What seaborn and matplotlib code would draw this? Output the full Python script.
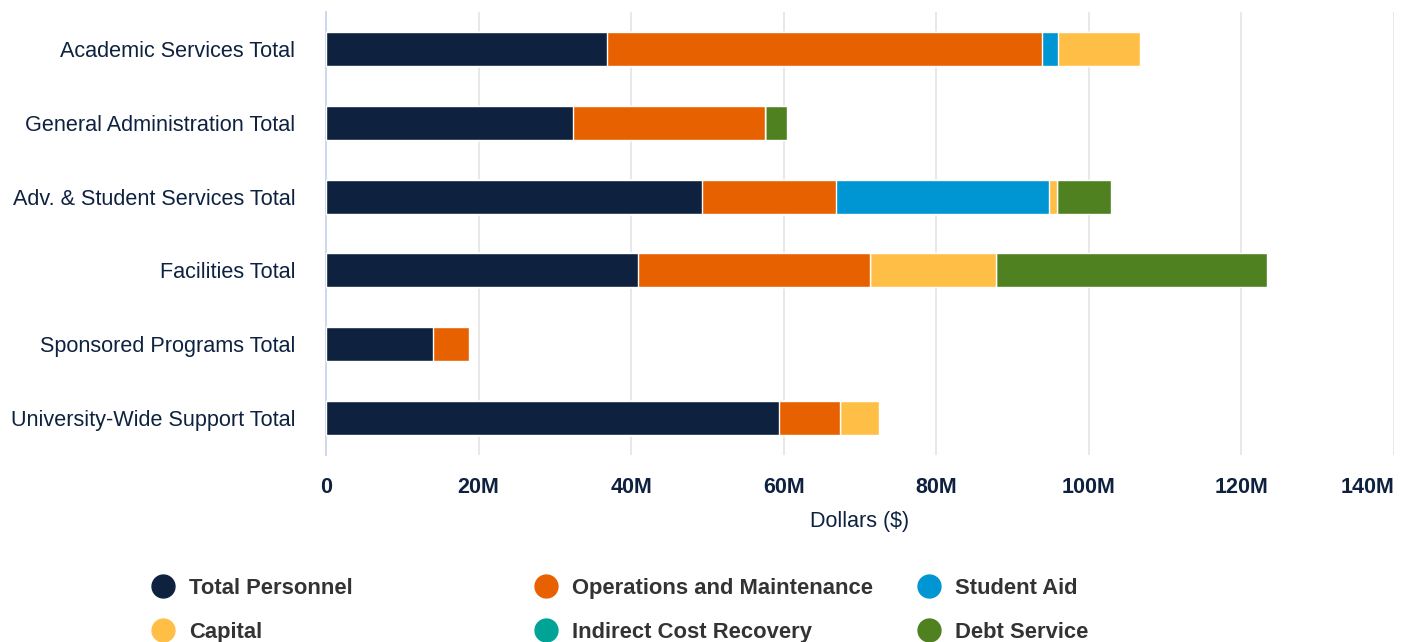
import matplotlib
matplotlib.use("Agg")
import matplotlib.pyplot as plt
import seaborn as sns
import pandas as pd
import numpy as np
from matplotlib.lines import Line2D

categories = ["Academic Services Total", "General Administration Total",
              "Adv. & Student Services Total", "Facilities Total",
              "Sponsored Programs Total", "University-Wide Support Total"]
series_names = ["Total Personnel", "Operations and Maintenance", "Student Aid",
                "Capital", "Indirect Cost Recovery", "Debt Service"]
total_personnel = [36.8, 32.4, 49.3, 40.9, 14.0, 59.4]
operations_maintenance = [57.0, 25.1, 17.6, 30.4, 4.7, 8.0]
student_aid = [2.2, 0.0, 27.9, 0.0, 0.0, 0.0]
capital = [10.7, 0.0, 1.0, 16.5, 0.0, 5.1]
indirect_cost_recovery = [0.0, 0.0, 0.0, 0.0, 0.0, 0.0]
debt_service = [0.0, 2.9, 7.1, 35.5, 0.0, 0.0]
colors = ["#0e2240", "#e86100", "#0095d3", "#ffbf47", "#00a497", "#4f8120"]
tick_values = [0, 20, 40, 60, 80, 100, 120, 140]
tick_labels = ["0", "20M", "40M", "60M", "80M", "100M", "120M", "140M"]

series = [total_personnel, operations_maintenance, student_aid, capital,
          indirect_cost_recovery, debt_service]

sns.set_theme(style="white")
plt.rcParams["font.family"] = ["Liberation Sans", "DejaVu Sans"]

W, H = 1412, 642
fig = plt.figure(figsize=(W / 100, H / 100), dpi=100)
ax = fig.add_axes([326 / W, 1 - 455 / H, (1394 - 326) / W, (455 - 12) / H])

cum = np.cumsum(np.array(series), axis=0)
for i in range(len(series) - 1, -1, -1):
    df = pd.DataFrame({"category": categories, "value": cum[i]})
    sns.barplot(data=df, x="value", y="category", orient="h", color=colors[i],
                saturation=1, width=0.46, edgecolor="white", linewidth=1.0,
                ax=ax, zorder=3)

ax.set_xlim(0, 140)
ax.set_ylim(5.5, -0.5)
ax.set_xticks(tick_values)
ax.set_xticklabels(tick_labels, fontsize=15.5, fontweight="bold", color="#0e2240")
xt = ax.get_xticklabels()
xt[-1].set_horizontalalignment("right")
xt[-1].set_x(140)
ax.tick_params(axis="x", length=0, pad=16)
ax.tick_params(axis="y", length=0, pad=22, labelsize=15.6, labelcolor="#0e2240")
ax.set_ylabel("")
ax.set_xlabel("Dollars ($)", fontsize=15.5, color="#0e2240", labelpad=9)
ax.grid(axis="x", color="#e6e6e6", linewidth=1.3, zorder=0)
ax.set_axisbelow(True)
for s in ["top", "right", "bottom"]:
    ax.spines[s].set_visible(False)
ax.spines["left"].set_color("#ccd6eb")
ax.spines["left"].set_linewidth(1.3)

# legend: 3 columns, row-major
col_x = [163, 546, 929]
row_y = [586, 630]
for k, (name, c) in enumerate(zip(series_names, colors)):
    cx = col_x[k % 3]
    cy = row_y[k // 3]
    fig.add_artist(Line2D([cx / W], [1 - cy / H], marker="o", linestyle="",
                          markersize=16.5, markerfacecolor=c, markeredgecolor=c,
                          transform=fig.transFigure))
    fig.text((cx + 26) / W, 1 - cy / H, name, fontsize=15.8, fontweight="bold",
             color="#333333", ha="left", va="center_baseline")

fig.savefig("out.png", dpi=100)
